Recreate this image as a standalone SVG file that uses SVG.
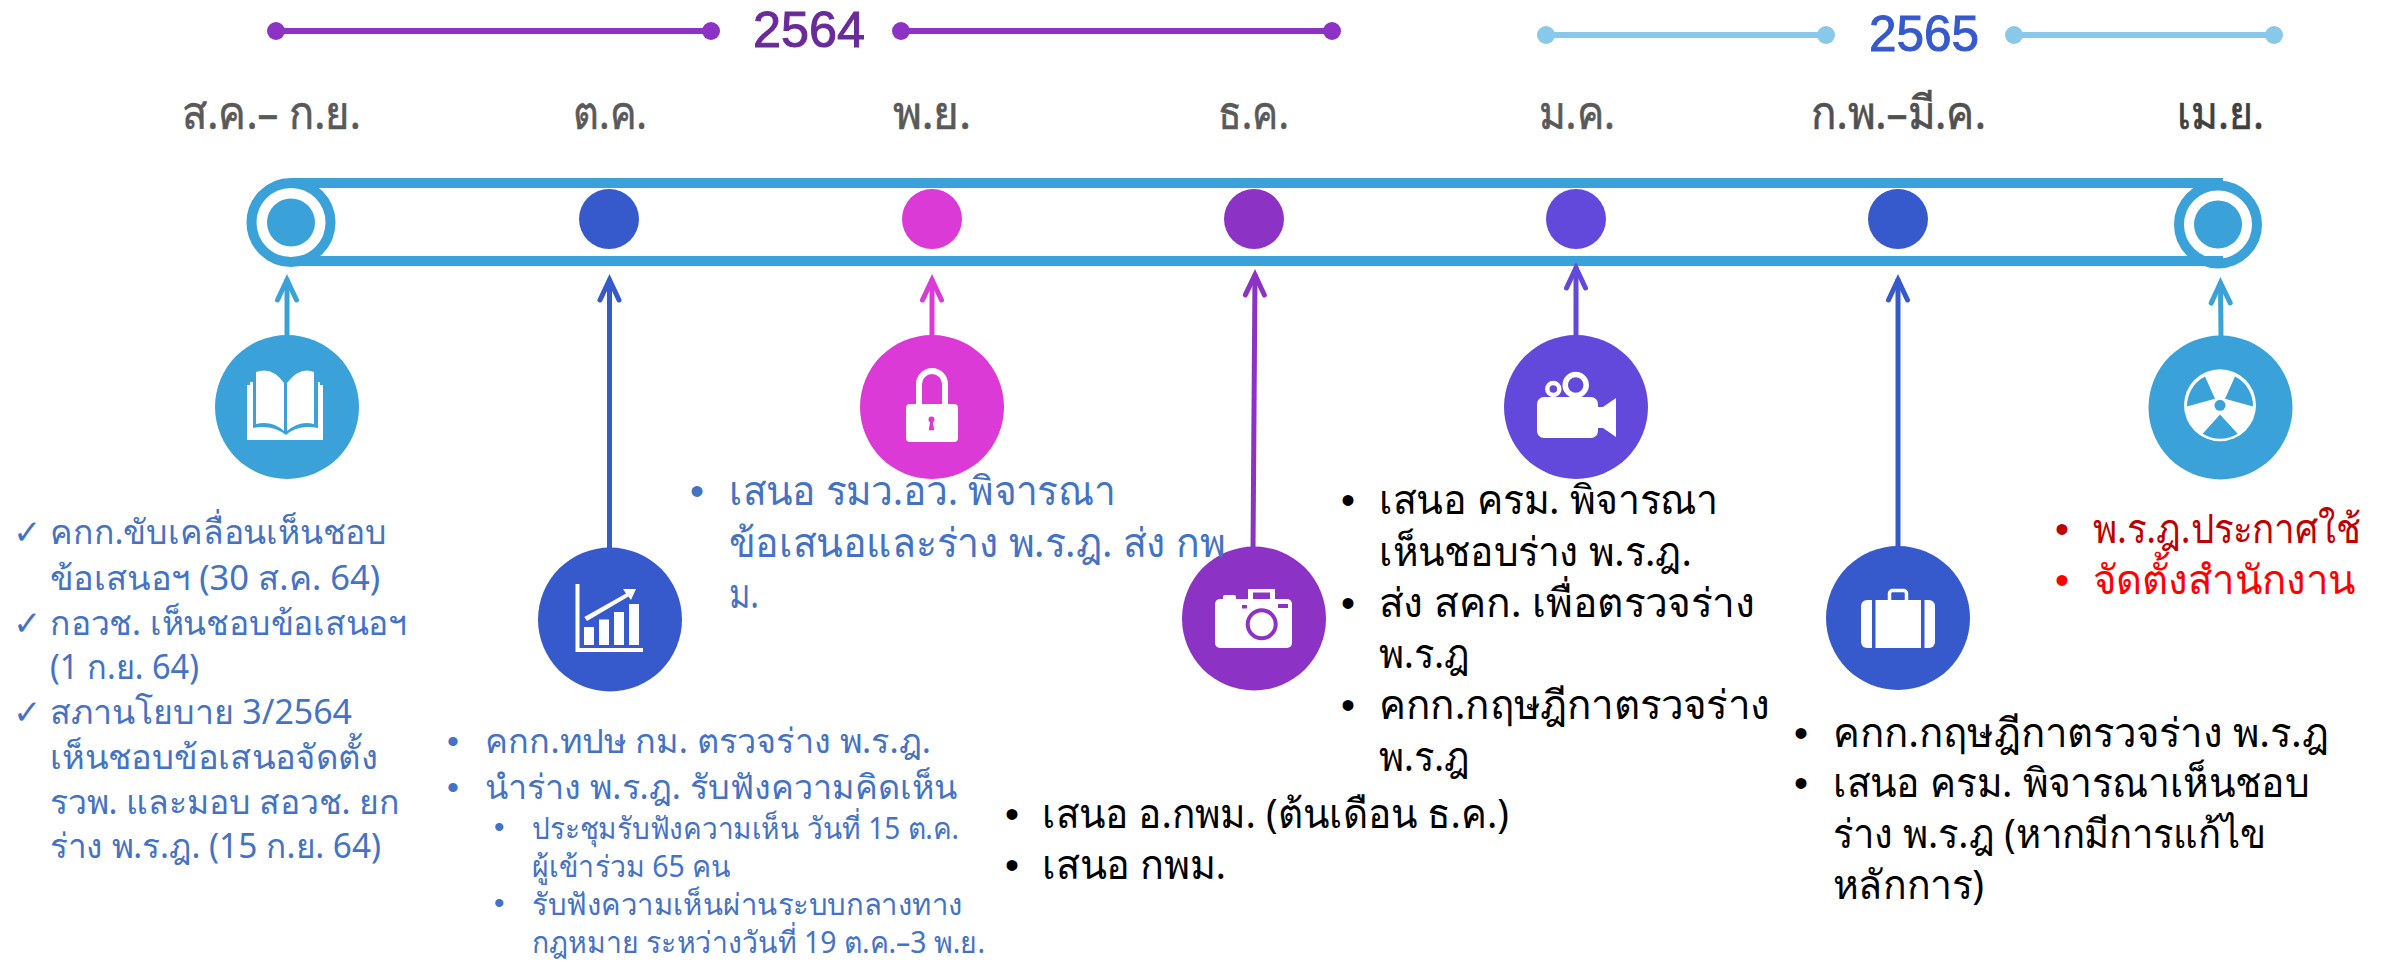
<svg xmlns="http://www.w3.org/2000/svg" width="2382" height="966" viewBox="0 0 2382 966">
<style>
text{font-family:"Noto Sans","Liberation Sans","DejaVu Sans",sans-serif}
.m{font-size:46px;fill:#595959;stroke:#595959;stroke-width:.6px}
.y{font-size:50px;font-family:"Liberation Sans",sans-serif;stroke-width:1px}
.b{font-size:34px;fill:#4472C4}
.s{font-size:30px;fill:#4472C4}
.l{font-size:40px;fill:#4472C4}
.k{font-size:40px;fill:#000}
.d{font-family:"Liberation Sans",sans-serif}
.w{fill:#fff}
.ln{fill:none;stroke-width:5}
.yr{stroke-width:6}
</style>
<defs>
<g id="h"><path d="M-21 -9.500L-.8 0L-21 9.500" fill="none" stroke-width="5" stroke-linecap="round"/></g>
<marker id="a1" markerUnits="userSpaceOnUse" viewBox="-26 -15 32 30" markerWidth="32" markerHeight="30" refX="0" refY="0" orient="auto"><use href="#h" stroke="#3AA2D9"/></marker>
<marker id="a2" markerUnits="userSpaceOnUse" viewBox="-26 -15 32 30" markerWidth="32" markerHeight="30" refX="0" refY="0" orient="auto"><use href="#h" stroke="#3659CC"/></marker>
<marker id="a3" markerUnits="userSpaceOnUse" viewBox="-26 -15 32 30" markerWidth="32" markerHeight="30" refX="0" refY="0" orient="auto"><use href="#h" stroke="#DB3AD6"/></marker>
<marker id="a4" markerUnits="userSpaceOnUse" viewBox="-26 -15 32 30" markerWidth="32" markerHeight="30" refX="0" refY="0" orient="auto"><use href="#h" stroke="#8C33C6"/></marker>
<marker id="a5" markerUnits="userSpaceOnUse" viewBox="-26 -15 32 30" markerWidth="32" markerHeight="30" refX="0" refY="0" orient="auto"><use href="#h" stroke="#6248DB"/></marker>
</defs>

<g id="year-2564">
<g stroke="#8C33C6" fill="#8C33C6" class="yr"><line x1="276" y1="31" x2="711" y2="31"/><line x1="901" y1="31" x2="1332" y2="31"/></g>
<g fill="#8C33C6"><circle cx="276" cy="31" r="9"/><circle cx="711" cy="31" r="9"/><circle cx="901" cy="31" r="9"/><circle cx="1332" cy="31" r="9"/></g>
<text class="y" x="753" y="47" fill="#6A2A9A" stroke="#6A2A9A" textLength="112" lengthAdjust="spacingAndGlyphs">2564</text>
</g>
<g id="year-2565">
<g stroke="#88C8E8" class="yr"><line x1="1546" y1="35" x2="1826" y2="35"/><line x1="2014" y1="35" x2="2274" y2="35"/></g>
<g fill="#88C8E8"><circle cx="1546" cy="35" r="9"/><circle cx="1826" cy="35" r="9"/><circle cx="2014" cy="35" r="9"/><circle cx="2274" cy="35" r="9"/></g>
<text class="y" x="1869" y="51" fill="#3659CC" stroke="#3659CC" textLength="110" lengthAdjust="spacingAndGlyphs">2565</text>
</g>

<g id="months">
<text class="m" x="182" y="129" textLength="179" lengthAdjust="spacingAndGlyphs">ส.ค.– ก.ย.</text>
<text class="m" x="573" y="129" textLength="74" lengthAdjust="spacingAndGlyphs">ต.ค.</text>
<text class="m" x="893" y="129" textLength="78" lengthAdjust="spacingAndGlyphs">พ.ย.</text>
<text class="m" x="1218" y="129" textLength="71" lengthAdjust="spacingAndGlyphs">ธ.ค.</text>
<text class="m" x="1539" y="129" textLength="76" lengthAdjust="spacingAndGlyphs">ม.ค.</text>
<text class="m" x="1811" y="129" textLength="175" lengthAdjust="spacingAndGlyphs" style="fill:#505050;stroke:#505050">ก.พ.–มี.ค.</text>
<text class="m" x="2177" y="129" textLength="87" lengthAdjust="spacingAndGlyphs" style="fill:#404040;stroke:#404040">เม.ย.</text>
</g>

<g id="timeline">
<circle cx="2218" cy="224.500" r="39" fill="#fff" stroke="#3AA2D9" stroke-width="10"/>
<circle cx="2218" cy="224.500" r="24" fill="#3AA2D9"/>
<rect x="291" y="178" width="1932" height="10" fill="#3AA2D9"/>
<rect x="291" y="256" width="1932" height="10" fill="#3AA2D9"/>
<circle cx="291" cy="222.500" r="39.500" fill="#fff" stroke="#3AA2D9" stroke-width="10"/>
<circle cx="291" cy="222.500" r="24" fill="#3AA2D9"/>
<circle cx="609" cy="219" r="30" fill="#3659CC"/>
<circle cx="932" cy="219" r="30" fill="#DB3AD6"/>
<circle cx="1254" cy="219" r="30" fill="#8C33C6"/>
<circle cx="1576" cy="219" r="30" fill="#6248DB"/>
<circle cx="1898" cy="219" r="30" fill="#3659CC"/>
</g>

<g id="connectors" class="ln">
<line x1="287" y1="338" x2="287" y2="279" stroke="#3AA2D9" marker-end="url(#a1)"/>
<line x1="609.500" y1="551" x2="609.500" y2="279" stroke="#3659CC" marker-end="url(#a2)"/>
<line x1="932" y1="338" x2="932" y2="279" stroke="#DB3AD6" marker-end="url(#a3)"/>
<line x1="1253" y1="551" x2="1255" y2="274" stroke="#8C33C6" marker-end="url(#a4)"/>
<line x1="1576" y1="338" x2="1576" y2="267" stroke="#6248DB" marker-end="url(#a5)"/>
<line x1="1898" y1="551" x2="1898" y2="279" stroke="#3659CC" marker-end="url(#a2)"/>
<line x1="2221" y1="338" x2="2220.500" y2="282" stroke="#3AA2D9" marker-end="url(#a1)"/>
</g>

<g id="node-book">
<circle cx="287" cy="407" r="72" fill="#3AA2D9"/>
<path class="w" d="M247 385H250V382H320V385H323V440H247Z"/>
<path fill="#3AA2D9" d="M253 382H318V428Q298 424 286 435Q272 424 253 428Z"/>
<path class="w" d="M256 372Q272 366 284 383V431Q272 420 256 424ZM314 372Q300 366 287 383V431Q300 420 314 424Z"/>
</g>
<g id="node-chart">
<circle cx="610" cy="619.500" r="72" fill="#3659CC"/>
<path class="w" d="M575.500 584H579.500V648H643V652H575.500Z"/>
<path class="w" d="M584 627H594V645H584ZM599 619.500H609V645H599ZM614 612H624V645H614ZM629 604H639V645H629Z"/>
<path class="w" d="M584.300 617L626 593.500L623 589L636 589L631 600L628.500 596.500L587 621Z"/>
</g>
<g id="node-lock">
<circle cx="932" cy="407" r="72" fill="#DB3AD6"/>
<path d="M919 404V384A13 13 0 0 1 945 384V404" fill="none" stroke="#fff" stroke-width="6"/>
<rect class="w" x="906" y="404" width="52" height="38" rx="4"/>
<circle cx="931.500" cy="419.500" r="3" fill="#DB3AD6"/>
<path fill="#DB3AD6" d="M930.500 420H932.500L934.300 430.300H928.700Z"/>
</g>
<g id="node-camera">
<circle cx="1254" cy="618.500" r="72" fill="#8C33C6"/>
<rect class="w" x="1215" y="599" width="77" height="49" rx="5"/>
<rect class="w" x="1223" y="595" width="13" height="8" rx="2"/>
<rect class="w" x="1248" y="589" width="27" height="12"/>
<rect x="1253" y="592.500" width="17" height="6.500" fill="#8C33C6"/>
<rect x="1242" y="605" width="5" height="3.500" fill="#8C33C6"/>
<rect x="1278" y="604" width="10" height="4" fill="#8C33C6"/>
<circle cx="1261.700" cy="624.300" r="14" fill="#fff" stroke="#8C33C6" stroke-width="4"/>
</g>
<g id="node-video">
<circle cx="1576" cy="407" r="72" fill="#6248DB"/>
<rect class="w" x="1537" y="397" width="61" height="41" rx="7"/>
<path class="w" d="M1597 407H1603L1616 398V437L1603 428H1597Z"/>
<circle cx="1553.300" cy="389" r="6" fill="none" stroke="#fff" stroke-width="4.500"/>
<circle cx="1575.700" cy="385" r="10.500" fill="none" stroke="#fff" stroke-width="5.500"/>
</g>
<g id="node-suitcase">
<circle cx="1898" cy="618" r="72" fill="#3659CC"/>
<rect x="1889.500" y="590.500" width="17" height="12" rx="3" fill="none" stroke="#fff" stroke-width="3.500"/>
<rect class="w" x="1861" y="600" width="74" height="48" rx="6"/>
<rect x="1872" y="600" width="3.500" height="48" fill="#3659CC"/>
<rect x="1921" y="600" width="3.500" height="48" fill="#3659CC"/>
</g>
<g id="node-radiation">
<circle cx="2220.500" cy="407.500" r="72" fill="#3AA2D9"/>
<circle class="w" cx="2220" cy="405.300" r="36"/>
<path fill="#3AA2D9" d="M2215 398.700L2205 376.500A33 33 0 0 0 2187 406.500ZM2225 398.700L2235 376.500A33 33 0 0 1 2253 406.500ZM2220 414.500L2202.700 433.700A33 33 0 0 0 2237.700 433.700Z"/>
<circle cx="2220" cy="405.300" r="5.500" fill="#3AA2D9"/>
</g>

<g id="text-1" class="b">
<text x="13" y="544" style="font-family:'DejaVu Sans'">✓</text>
<text x="50" y="544" textLength="337" lengthAdjust="spacingAndGlyphs">คกก.ขับเคลื่อนเห็นชอบ</text>
<text x="50" y="590" textLength="330" lengthAdjust="spacingAndGlyphs">ข้อเสนอฯ (30 ส.ค. 64)</text>
<text x="13" y="635" style="font-family:'DejaVu Sans'">✓</text>
<text x="50" y="635" textLength="357" lengthAdjust="spacingAndGlyphs">กอวช. เห็นชอบข้อเสนอฯ</text>
<text x="50" y="679" textLength="149" lengthAdjust="spacingAndGlyphs">(1 ก.ย. 64)</text>
<text x="13" y="724" style="font-family:'DejaVu Sans'">✓</text>
<text x="50" y="724" textLength="302" lengthAdjust="spacingAndGlyphs">สภานโยบาย 3/2564</text>
<text x="50" y="769" textLength="328" lengthAdjust="spacingAndGlyphs">เห็นชอบข้อเสนอจัดตั้ง</text>
<text x="50" y="814" textLength="350" lengthAdjust="spacingAndGlyphs">รวพ. และมอบ สอวช. ยก</text>
<text x="50" y="858" textLength="331" lengthAdjust="spacingAndGlyphs">ร่าง พ.ร.ฎ. (15 ก.ย. 64)</text>
</g>
<g id="text-2">
<g class="b">
<text class="d" x="447" y="753">•</text>
<text x="485" y="753" textLength="446" lengthAdjust="spacingAndGlyphs">คกก.ทปษ กม. ตรวจร่าง พ.ร.ฎ.</text>
<text class="d" x="447" y="799">•</text>
<text x="485" y="799" textLength="472" lengthAdjust="spacingAndGlyphs">นำร่าง พ.ร.ฎ. รับฟังความคิดเห็น</text>
</g>
<g class="s">
<text class="d" x="494" y="837">•</text>
<text x="532" y="839" textLength="427" lengthAdjust="spacingAndGlyphs">ประชุมรับฟังความเห็น วันที่ 15 ต.ค.</text>
<text x="532" y="877" textLength="199" lengthAdjust="spacingAndGlyphs">ผู้เข้าร่วม 65 คน</text>
<text class="d" x="494" y="913">•</text>
<text x="532" y="915" textLength="431" lengthAdjust="spacingAndGlyphs">รับฟังความเห็นผ่านระบบกลางทาง</text>
<text x="532" y="953" textLength="453" lengthAdjust="spacingAndGlyphs">กฎหมาย ระหว่างวันที่ 19 ต.ค.–3 พ.ย.</text>
</g>
</g>
<g id="text-3" class="l">
<text class="d" x="690" y="505">•</text>
<text x="729" y="505" textLength="386" lengthAdjust="spacingAndGlyphs">เสนอ รมว.อว. พิจารณา</text>
<text x="729" y="557" textLength="496" lengthAdjust="spacingAndGlyphs">ข้อเสนอและร่าง พ.ร.ฎ. ส่ง กพ</text>
<text x="729" y="608" textLength="30" lengthAdjust="spacingAndGlyphs">ม.</text>
</g>
<g id="text-4" class="k">
<text class="d" x="1005" y="828">•</text>
<text x="1042" y="828" textLength="467" lengthAdjust="spacingAndGlyphs">เสนอ อ.กพม. (ต้นเดือน ธ.ค.)</text>
<text class="d" x="1005" y="879">•</text>
<text x="1042" y="879" textLength="184" lengthAdjust="spacingAndGlyphs">เสนอ กพม.</text>
</g>
<g id="text-5" class="k">
<text class="d" x="1341" y="514">•</text>
<text x="1379" y="514" textLength="339" lengthAdjust="spacingAndGlyphs">เสนอ ครม. พิจารณา</text>
<text x="1379" y="566" textLength="313" lengthAdjust="spacingAndGlyphs">เห็นชอบร่าง พ.ร.ฎ.</text>
<text class="d" x="1341" y="617">•</text>
<text x="1379" y="617" textLength="376" lengthAdjust="spacingAndGlyphs">ส่ง สคก. เพื่อตรวจร่าง</text>
<text x="1379" y="668" textLength="91" lengthAdjust="spacingAndGlyphs">พ.ร.ฎ</text>
<text class="d" x="1341" y="719">•</text>
<text x="1379" y="719" textLength="391" lengthAdjust="spacingAndGlyphs">คกก.กฤษฎีกาตรวจร่าง</text>
<text x="1379" y="771" textLength="91" lengthAdjust="spacingAndGlyphs">พ.ร.ฎ</text>
</g>
<g id="text-6" class="k">
<text class="d" x="1794" y="747">•</text>
<text x="1833" y="747" textLength="496" lengthAdjust="spacingAndGlyphs">คกก.กฤษฎีกาตรวจร่าง พ.ร.ฎ</text>
<text class="d" x="1794" y="797">•</text>
<text x="1833" y="797" textLength="476" lengthAdjust="spacingAndGlyphs">เสนอ ครม. พิจารณาเห็นชอบ</text>
<text x="1833" y="848" textLength="433" lengthAdjust="spacingAndGlyphs">ร่าง พ.ร.ฎ (หากมีการแก้ไข</text>
<text x="1833" y="899" textLength="151" lengthAdjust="spacingAndGlyphs">หลักการ)</text>
</g>
<g id="text-7" class="k">
<text class="d" x="2055" y="543" style="fill:#C00000">•</text>
<text x="2093" y="543" style="fill:#C00000" textLength="268" lengthAdjust="spacingAndGlyphs">พ.ร.ฎ.ประกาศใช้</text>
<text class="d" x="2055" y="594" style="fill:#FF0000">•</text>
<text x="2093" y="594" style="fill:#FF0000" textLength="262" lengthAdjust="spacingAndGlyphs">จัดตั้งสำนักงาน</text>
</g>
</svg>
